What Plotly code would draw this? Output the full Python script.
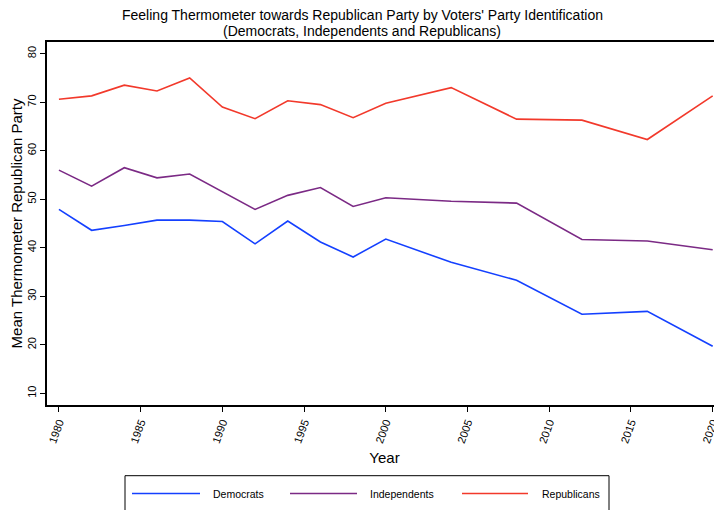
import plotly.graph_objects as go

years = [1980, 1982, 1984, 1986, 1988, 1990, 1992, 1994, 1996, 1998, 2000, 2004, 2008, 2012, 2016, 2020]
democrats = [47.9, 43.6, 44.6, 45.7, 45.7, 45.4, 40.8, 45.5, 41.2, 38.1, 41.8, 37.0, 33.3, 26.3, 26.9, 19.7]
independents = [56.0, 52.7, 56.5, 54.4, 55.2, 51.6, 47.9, 50.8, 52.4, 48.5, 50.3, 49.6, 49.2, 41.7, 41.4, 39.6]
republicans = [70.6, 71.3, 73.5, 72.3, 75.0, 69.0, 66.6, 70.3, 69.5, 66.8, 69.8, 73.0, 66.5, 66.3, 62.3, 71.3]

series_names = ["Democrats", "Independents", "Republicans"]
series_values = [democrats, independents, republicans]
colors = ["#1440FF", "#7B2A85", "#F2392B"]

x_ticks = [1980, 1985, 1990, 1995, 2000, 2005, 2010, 2015, 2020]
y_ticks = [10, 20, 30, 40, 50, 60, 70, 80]

title_lines = ["Feeling Thermometer towards Republican Party by Voters' Party Identification",
               "(Democrats, Independents and Republicans)"]

FONT = "Liberation Sans, Arial, Helvetica, sans-serif"

fig = go.Figure()
for name, vals, col in zip(series_names, series_values, colors):
    fig.add_trace(go.Scatter(x=years, y=vals, mode="lines", name=name,
                             line=dict(color=col, width=1.6), showlegend=False))

# page body has an 8px margin, so the figure is drawn 8px in from the window corner
OFF = 8
W, H = 722 - OFF, 510 - OFF
L, R, T, B = 47 - OFF, 0, 42 - OFF, 510 - 405
pw, ph = W - L - R, H - T - B

def px(x):  # screen pixel -> paper x
    return (x - OFF - L) / pw

def py(y):  # screen pixel -> paper y
    return (H - B - (y - OFF)) / ph

shapes = [dict(type="rect", xref="paper", yref="paper",
               x0=px(125), x1=px(609), y0=py(520), y1=py(475.7),
               line=dict(color="black", width=1), fillcolor="white", layer="above")]
annotations = []
leg_items = [(132, 200, 211), (290, 357, 368), (462, 528, 540)]
for (x0, x1, xt), name, col in zip(leg_items, series_names, colors):
    shapes.append(dict(type="line", xref="paper", yref="paper",
                       x0=px(x0), x1=px(x1), y0=py(493.5), y1=py(493.5),
                       line=dict(color=col, width=1.6), layer="above"))
    annotations.append(dict(text=name, xref="paper", yref="paper", x=px(xt), y=py(494),
                            xanchor="left", yanchor="middle", showarrow=False,
                            font=dict(family=FONT, size=10.5, color="black")))

for line_text, ty in zip(title_lines, [15.5, 30.5]):
    annotations.append(dict(text=line_text, xref="paper", yref="paper", x=px(362), y=py(ty),
                            xanchor="center", yanchor="middle", showarrow=False,
                            font=dict(family=FONT, size=14, color="black")))

fig.update_layout(
    width=W, height=H,
    margin=dict(l=L, r=R, t=T, b=B),
    paper_bgcolor="white", plot_bgcolor="white",
    font=dict(family=FONT, color="black"),
    shapes=shapes,
    annotations=annotations,
)

fig.update_xaxes(range=[1979.27, 2020.57], tickvals=x_ticks, ticktext=[str(v) for v in x_ticks],
                 tickangle=-70, ticks="outside", ticklen=5, tickwidth=1, tickcolor="black",
                 showline=True, linecolor="black", linewidth=1.5, mirror=True,
                 showgrid=False, zeroline=False,
                 tickfont=dict(family=FONT, size=11, color="black"),
                 title=dict(text="Year", font=dict(family=FONT, size=15, color="black"), standoff=8))
fig.update_yaxes(range=[7.6, 82.4], tickvals=y_ticks, tickangle=-90,
                 ticks="outside", ticklen=5, tickwidth=1, tickcolor="black",
                 showline=True, linecolor="black", linewidth=1.5,
                 showgrid=False, zeroline=False,
                 tickfont=dict(family=FONT, size=11, color="black"),
                 title=dict(text="Mean Thermometer Republican Party", font=dict(family=FONT, size=15, color="black"), standoff=4))

fig.write_html("out.html")
